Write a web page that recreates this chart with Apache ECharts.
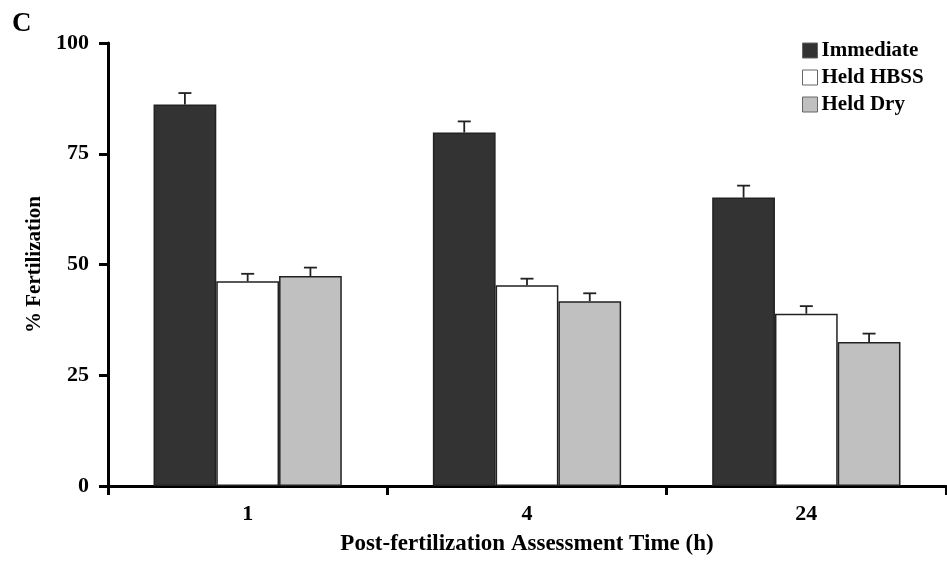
<!DOCTYPE html>
<html>
<head>
<meta charset="utf-8">
<script src="https://cdn.jsdelivr.net/npm/echarts@6/dist/echarts.min.js"></script>
<style>html,body{margin:0;padding:0;background:#fff}#c{width:947px;height:561px}</style>
</head>
<body>
<div id="c"></div>
<script>
var categories = ['1', '4', '24'];
var seriesNames = ['Immediate', 'Held HBSS', 'Held Dry'];
var immediate = [86.1, 79.8, 65.1];
var heldHBSS = [46.2, 45.3, 38.9];
var heldDry = [47.4, 41.7, 32.5];
var immediateErr = [2.6, 2.5, 2.7];
var heldHBSSErr = [1.7, 1.5, 1.7];
var heldDryErr = [1.9, 1.8, 1.9];
var yTicks = [0, 25, 50, 75, 100];

var values = [immediate, heldHBSS, heldDry];
var errors = [immediateErr, heldHBSSErr, heldDryErr];
var colors = ['#333333', '#ffffff', '#c0c0c0'];
var FONT = '"Liberation Serif", "Times New Roman", serif';
var CAT_GAP = 0.326;

var chart = echarts.init(document.getElementById('c'), null, {renderer: 'canvas'});

var series = [];
seriesNames.forEach(function (name, i) {
  series.push({
    name: name,
    type: 'bar',
    data: values[i],
    barGap: '0%',
    barCategoryGap: (CAT_GAP * 100) + '%',
    itemStyle: {color: colors[i], borderColor: '#222', borderWidth: 1.5},
    emphasis: {disabled: true},
    z: 2
  });
});
seriesNames.forEach(function (name, i) {
  series.push({
    type: 'custom',
    name: name + ' err',
    data: values[i].map(function (v, j) { return [j, v, v + errors[i][j]]; }),
    z: 3,
    silent: true,
    renderItem: function (params, api) {
      var catW = api.size([1, 0])[0];
      var barW = catW * (1 - CAT_GAP) / 3;
      var offset = (i - 1) * barW;
      var base = api.coord([api.value(0), api.value(1)]);
      var top = api.coord([api.value(0), api.value(2)]);
      var x = base[0] + offset;
      var style = {stroke: '#222', lineWidth: 1.8, fill: null};
      return {
        type: 'group',
        children: [
          {type: 'line', shape: {x1: x, y1: base[1], x2: x, y2: top[1]}, style: style},
          {type: 'line', shape: {x1: x - 6.5, y1: top[1], x2: x + 6.5, y2: top[1]}, style: style}
        ]
      };
    }
  });
});

chart.setOption({
  backgroundColor: '#fff',
  animation: false,
  title: {
    text: 'C', left: 7, top: 6,
    textStyle: {fontFamily: FONT, fontWeight: 'bold', fontSize: 27, color: '#000'}
  },
  legend: {
    data: seriesNames.map(function (n, i) { return {name: n, icon: 'rect', itemStyle: {color: colors[i], borderColor: '#666', borderWidth: 1}}; }),
    orient: 'vertical',
    left: 797, top: 35,
    itemWidth: 15, itemHeight: 15, itemGap: 6,
    selectedMode: false,
    textStyle: {fontFamily: FONT, fontWeight: 'bold', fontSize: 21, color: '#000', padding: [0, 0, 0, -1]}
  },
  grid: {left: 108, right: 1, top: 43, bottom: 74, containLabel: false},
  xAxis: {
    type: 'category',
    data: categories,
    name: 'Post-fertilization Assessment Time (h)',
    nameLocation: 'middle',
    nameGap: 47,
    nameTextStyle: {fontFamily: FONT, fontWeight: 'bold', fontSize: 23, color: '#000'},
    axisLine: {lineStyle: {color: '#000', width: 3}},
    axisTick: {show: true, inside: false, length: 9, lineStyle: {color: '#000', width: 3}},
    axisLabel: {fontFamily: FONT, fontWeight: 'bold', fontSize: 22, color: '#000', margin: 17},
    splitLine: {show: false}
  },
  yAxis: {
    type: 'value',
    min: yTicks[0], max: yTicks[yTicks.length - 1], interval: 25,
    name: '% Fertilization',
    nameLocation: 'middle',
    nameGap: 61,
    nameRotate: 90,
    nameTextStyle: {fontFamily: FONT, fontWeight: 'bold', fontSize: 21, color: '#000'},
    axisLine: {show: true, lineStyle: {color: '#000', width: 3}},
    axisTick: {show: true, inside: false, length: 9, lineStyle: {color: '#000', width: 3}},
    axisLabel: {fontFamily: FONT, fontWeight: 'bold', fontSize: 22, color: '#000', margin: 19},
    splitLine: {show: false}
  },
  series: series
});
</script>
</body>
</html>
